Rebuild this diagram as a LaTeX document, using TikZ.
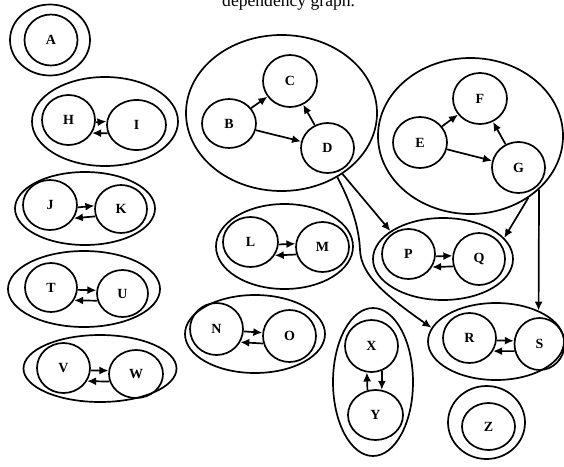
\documentclass[tikz,border=0pt]{standalone}
\usepackage{fontspec}
\setmainfont{Liberation Serif}
\usetikzlibrary{shapes.geometric,arrows.meta}
\tikzset{
  elem/.style={draw, ellipse, inner sep=0pt, line width=1.7pt,
    font=\bfseries\fontsize{14}{14}\selectfont},
  grp/.style={draw, ellipse, inner sep=0pt, line width=1.7pt},
  arr/.style={line width=1.7pt, -{Latex[length=9pt,width=8pt]}},
  sz/.style 2 args={minimum width=#1pt, minimum height=#2pt},
}
\begin{document}
\begin{tikzpicture}[x=1pt,y=-1pt]
\useasboundingbox (0,0) rectangle (564,466);
% title (cut at top, as in the reference)
\node[anchor=base west, inner sep=0pt, font=\fontsize{17.6}{17.6}\selectfont] (title) at (222,6) {dependency graph.};

% clusters
\node[grp, sz={80}{71}]   (cA)   at (50,40) {};
\node[grp, sz={146}{89}]  (cHI)  at (105,121.5) {};
\node[grp, sz={140}{73}]  (cJK)  at (85,208.5) {};
\node[grp, sz={152}{76}]  (cTU)  at (84,289) {};
\node[grp, sz={153}{67}]  (cVW)  at (100,368.5) {};
\node[grp, sz={191}{156}] (cBCD) at (281.5,113) {};
\node[grp, sz={185}{156}] (cEFG) at (470.5,136) {};
\node[grp, sz={137}{85}]  (cLM)  at (284.5,246.5) {};
\node[grp, sz={140}{78}]  (cNO)  at (255,334) {};
\node[grp, sz={80}{148}]  (cXY)  at (373,382) {};
\node[grp, sz={140}{82}]  (cPQ)  at (443,259) {};
\node[grp, sz={136}{77}]  (cRS)  at (496,341.5) {};
\node[grp, sz={77}{73}]   (cZ)   at (486.5,422.5) {};

% elements
\node[elem, sz={53}{51}] (A) at (51,40) {A};
\node[elem, sz={53}{50}] (H) at (68.5,120) {H};
\node[elem, sz={59}{50}] (I) at (136.5,125) {I};
\node[elem, sz={54}{50}] (J) at (50,205) {J};
\node[elem, sz={52}{48}] (K) at (121,209) {K};
\node[elem, sz={52}{49}] (T) at (51,287.5) {T};
\node[elem, sz={51}{47}] (U) at (122.5,293.5) {U};
\node[elem, sz={53}{50}] (V) at (63.5,368) {V};
\node[elem, sz={54}{48}] (W) at (136,374) {W};
\node[elem, sz={54}{49}] (B) at (229,123.5) {B};
\node[elem, sz={54}{52}] (C) at (290,81) {C};
\node[elem, sz={53}{50}] (D) at (327.5,148) {D};
\node[elem, sz={54}{51}] (E) at (420,142.5) {E};
\node[elem, sz={54}{51}] (F) at (480,98.5) {F};
\node[elem, sz={53}{51}] (G) at (518.5,167.5) {G};
\node[elem, sz={55}{50}] (L) at (250.5,242) {L};
\node[elem, sz={53}{50}] (M) at (322.5,247) {M};
\node[elem, sz={53}{52}] (N) at (216.5,329) {N};
\node[elem, sz={53}{52}] (O) at (289.5,336) {O};
\node[elem, sz={53}{52}] (X) at (371.5,346) {X};
\node[elem, sz={55}{50}] (Y) at (375.5,415) {Y};
\node[elem, sz={53}{50}] (P) at (408.5,254) {P};
\node[elem, sz={52}{52}] (Q) at (479,259) {Q};
\node[elem, sz={53}{50}] (R) at (469.5,338) {R};
\node[elem, sz={50}{52}] (S) at (539.5,344) {S};
\node[elem, sz={53}{47}] (Z) at (488.5,426.5) {Z};

% arrows inside triangles
\draw[arr] (B) -- (C);
\draw[arr] (B) -- (D);
\draw[arr] (D) -- (C);
\draw[arr] (E) -- (F);
\draw[arr] (E) -- (G);
\draw[arr] (G) -- (F);

% pair arrows
\foreach \l/\r in {H/I, J/K, T/U, V/W, L/M, N/O, P/Q, R/S}{
  \draw[arr] (\l.355) -- (\r.173);
  \draw[arr] (\r.196) -- (\l.331);
}
\draw[arr] (Y.108) -- (X.260);
\draw[arr] (X.293) -- (Y.76);

% arrows between clusters
\draw[arr] (cBCD.-45) -- (cPQ.152);
\draw[arr] (cBCD.-49) .. controls (352,205) and (359,228) .. (360,250)
  .. controls (361,275) and (385,295) .. (cRS.168);
\draw[arr] (cEFG.-47) -- (cPQ.19);
\draw[arr] (cEFG.-38) -- (cRS.36);
\end{tikzpicture}
\end{document}
